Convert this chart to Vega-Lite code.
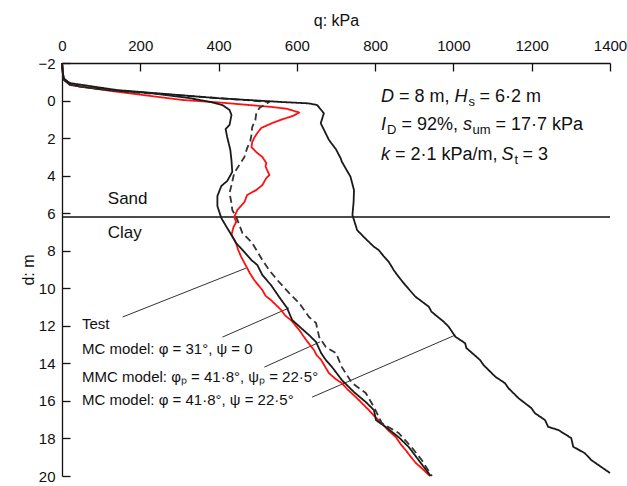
{
  "$schema": "https://vega.github.io/schema/vega-lite/v6.json",
  "width": 548,
  "height": 413,
  "autosize": {"type": "none"},
  "padding": {"left": 62, "top": 63, "right": 17, "bottom": 10},
  "config": {
    "view": {"stroke": null},
    "font": "Liberation Sans",
    "text": {"font": "Liberation Sans", "color": "#111"}
  },
  "datasets": {
    "curves": [
      {"s": "Test", "q": 0, "d": -2}, {"s": "Test", "q": 2, "d": -1.5}, {"s": "Test", "q": 5, "d": -1.1},
      {"s": "Test", "q": 20, "d": -0.83}, {"s": "Test", "q": 140, "d": -0.47}, {"s": "Test", "q": 308, "d": -0.03},
      {"s": "Test", "q": 400, "d": 0.1}, {"s": "Test", "q": 479, "d": 0.24}, {"s": "Test", "q": 540, "d": 0.35},
      {"s": "Test", "q": 575, "d": 0.44}, {"s": "Test", "q": 606, "d": 0.64}, {"s": "Test", "q": 590, "d": 0.82},
      {"s": "Test", "q": 560, "d": 1.02}, {"s": "Test", "q": 537, "d": 1.2}, {"s": "Test", "q": 509, "d": 1.46},
      {"s": "Test", "q": 499, "d": 1.73}, {"s": "Test", "q": 492, "d": 1.95}, {"s": "Test", "q": 486, "d": 2.21},
      {"s": "Test", "q": 484, "d": 2.48}, {"s": "Test", "q": 496, "d": 2.74}, {"s": "Test", "q": 512, "d": 3.01},
      {"s": "Test", "q": 522, "d": 3.33}, {"s": "Test", "q": 520, "d": 3.5}, {"s": "Test", "q": 524, "d": 3.7},
      {"s": "Test", "q": 530, "d": 3.97}, {"s": "Test", "q": 522, "d": 4.13}, {"s": "Test", "q": 512, "d": 4.5},
      {"s": "Test", "q": 496, "d": 4.77}, {"s": "Test", "q": 473, "d": 5.03}, {"s": "Test", "q": 466, "d": 5.41},
      {"s": "Test", "q": 448, "d": 5.83}, {"s": "Test", "q": 440, "d": 6.2}, {"s": "Test", "q": 445, "d": 6.47},
      {"s": "Test", "q": 438, "d": 6.75}, {"s": "Test", "q": 435, "d": 7.0}, {"s": "Test", "q": 433, "d": 7.16},
      {"s": "Test", "q": 445, "d": 7.6}, {"s": "Test", "q": 450, "d": 7.95}, {"s": "Test", "q": 458, "d": 8.34},
      {"s": "Test", "q": 473, "d": 8.92}, {"s": "Test", "q": 480, "d": 9.2}, {"s": "Test", "q": 491, "d": 9.56},
      {"s": "Test", "q": 512, "d": 10.1}, {"s": "Test", "q": 520, "d": 10.4}, {"s": "Test", "q": 534, "d": 10.63},
      {"s": "Test", "q": 560, "d": 11.16}, {"s": "Test", "q": 570, "d": 11.45}, {"s": "Test", "q": 585, "d": 11.7},
      {"s": "Test", "q": 606, "d": 12.22}, {"s": "Test", "q": 615, "d": 12.5}, {"s": "Test", "q": 624, "d": 12.76},
      {"s": "Test", "q": 644, "d": 13.3}, {"s": "Test", "q": 650, "d": 13.55}, {"s": "Test", "q": 662, "d": 13.82},
      {"s": "Test", "q": 682, "d": 14.52}, {"s": "Test", "q": 700, "d": 14.85}, {"s": "Test", "q": 715, "d": 15.05},
      {"s": "Test", "q": 730, "d": 15.4}, {"s": "Test", "q": 751, "d": 15.8}, {"s": "Test", "q": 770, "d": 16.2},
      {"s": "Test", "q": 784, "d": 16.49}, {"s": "Test", "q": 800, "d": 16.85}, {"s": "Test", "q": 817, "d": 17.18},
      {"s": "Test", "q": 835, "d": 17.6}, {"s": "Test", "q": 853, "d": 17.93}, {"s": "Test", "q": 865, "d": 18.3},
      {"s": "Test", "q": 878, "d": 18.62}, {"s": "Test", "q": 890, "d": 18.95}, {"s": "Test", "q": 904, "d": 19.31},
      {"s": "Test", "q": 920, "d": 19.6}, {"s": "Test", "q": 932, "d": 19.84}, {"s": "Test", "q": 940, "d": 20.0},

      {"s": "MC31", "q": 0, "d": -2}, {"s": "MC31", "q": 2, "d": -1.5}, {"s": "MC31", "q": 5, "d": -1.1},
      {"s": "MC31", "q": 20, "d": -0.85}, {"s": "MC31", "q": 53, "d": -0.72}, {"s": "MC31", "q": 120, "d": -0.55},
      {"s": "MC31", "q": 224, "d": -0.4}, {"s": "MC31", "q": 326, "d": -0.13}, {"s": "MC31", "q": 380, "d": 0.08},
      {"s": "MC31", "q": 410, "d": 0.24}, {"s": "MC31", "q": 428, "d": 0.5}, {"s": "MC31", "q": 433, "d": 0.77},
      {"s": "MC31", "q": 428, "d": 1.3}, {"s": "MC31", "q": 418, "d": 1.52}, {"s": "MC31", "q": 422, "d": 1.94},
      {"s": "MC31", "q": 430, "d": 2.63}, {"s": "MC31", "q": 433, "d": 3.2}, {"s": "MC31", "q": 435, "d": 3.8},
      {"s": "MC31", "q": 422, "d": 4.29}, {"s": "MC31", "q": 407, "d": 4.55}, {"s": "MC31", "q": 397, "d": 5.09},
      {"s": "MC31", "q": 397, "d": 5.62}, {"s": "MC31", "q": 407, "d": 6.26}, {"s": "MC31", "q": 422, "d": 6.79},
      {"s": "MC31", "q": 433, "d": 7.16}, {"s": "MC31", "q": 445, "d": 7.6}, {"s": "MC31", "q": 466, "d": 8.07},
      {"s": "MC31", "q": 484, "d": 8.5}, {"s": "MC31", "q": 499, "d": 8.76}, {"s": "MC31", "q": 512, "d": 9.3},
      {"s": "MC31", "q": 534, "d": 9.83}, {"s": "MC31", "q": 555, "d": 10.47}, {"s": "MC31", "q": 575, "d": 11.05},
      {"s": "MC31", "q": 588, "d": 11.69}, {"s": "MC31", "q": 611, "d": 12.12}, {"s": "MC31", "q": 631, "d": 12.49},
      {"s": "MC31", "q": 649, "d": 12.86}, {"s": "MC31", "q": 662, "d": 13.45}, {"s": "MC31", "q": 674, "d": 13.82},
      {"s": "MC31", "q": 690, "d": 14.2}, {"s": "MC31", "q": 715, "d": 14.89}, {"s": "MC31", "q": 746, "d": 15.53},
      {"s": "MC31", "q": 776, "d": 16.06}, {"s": "MC31", "q": 797, "d": 16.49}, {"s": "MC31", "q": 802, "d": 17.02},
      {"s": "MC31", "q": 827, "d": 17.39}, {"s": "MC31", "q": 860, "d": 17.93}, {"s": "MC31", "q": 886, "d": 18.46},
      {"s": "MC31", "q": 911, "d": 19.15}, {"s": "MC31", "q": 942, "d": 20.0},

      {"s": "MMC", "q": 0, "d": -2}, {"s": "MMC", "q": 2, "d": -1.5}, {"s": "MMC", "q": 5, "d": -1.1},
      {"s": "MMC", "q": 33, "d": -0.77}, {"s": "MMC", "q": 173, "d": -0.45}, {"s": "MMC", "q": 326, "d": -0.24},
      {"s": "MMC", "q": 453, "d": -0.05}, {"s": "MMC", "q": 529, "d": 0.08}, {"s": "MMC", "q": 517, "d": 0.24},
      {"s": "MMC", "q": 504, "d": 0.4}, {"s": "MMC", "q": 496, "d": 0.72}, {"s": "MMC", "q": 494, "d": 1.04},
      {"s": "MMC", "q": 486, "d": 1.41}, {"s": "MMC", "q": 484, "d": 1.84}, {"s": "MMC", "q": 481, "d": 2.16},
      {"s": "MMC", "q": 473, "d": 2.53}, {"s": "MMC", "q": 466, "d": 3.01}, {"s": "MMC", "q": 453, "d": 3.43},
      {"s": "MMC", "q": 440, "d": 3.86}, {"s": "MMC", "q": 433, "d": 4.5}, {"s": "MMC", "q": 428, "d": 4.93},
      {"s": "MMC", "q": 433, "d": 5.46}, {"s": "MMC", "q": 435, "d": 5.83}, {"s": "MMC", "q": 445, "d": 6.2},
      {"s": "MMC", "q": 453, "d": 6.63}, {"s": "MMC", "q": 461, "d": 7.06}, {"s": "MMC", "q": 486, "d": 7.59},
      {"s": "MMC", "q": 512, "d": 8.5}, {"s": "MMC", "q": 529, "d": 9.03}, {"s": "MMC", "q": 550, "d": 9.56},
      {"s": "MMC", "q": 580, "d": 10.25}, {"s": "MMC", "q": 606, "d": 10.79}, {"s": "MMC", "q": 631, "d": 11.53},
      {"s": "MMC", "q": 649, "d": 11.85}, {"s": "MMC", "q": 657, "d": 12.6}, {"s": "MMC", "q": 674, "d": 13.13},
      {"s": "MMC", "q": 700, "d": 13.45}, {"s": "MMC", "q": 715, "d": 14.2}, {"s": "MMC", "q": 741, "d": 15.05},
      {"s": "MMC", "q": 776, "d": 15.58}, {"s": "MMC", "q": 797, "d": 16.33}, {"s": "MMC", "q": 817, "d": 17.18},
      {"s": "MMC", "q": 860, "d": 17.71}, {"s": "MMC", "q": 893, "d": 18.46}, {"s": "MMC", "q": 919, "d": 19.15},
      {"s": "MMC", "q": 945, "d": 20.0},

      {"s": "MC418", "q": 0, "d": -2}, {"s": "MC418", "q": 3, "d": -1.2}, {"s": "MC418", "q": 20, "d": -0.93},
      {"s": "MC418", "q": 140, "d": -0.56}, {"s": "MC418", "q": 395, "d": -0.13}, {"s": "MC418", "q": 563, "d": 0.08},
      {"s": "MC418", "q": 630, "d": 0.15}, {"s": "MC418", "q": 652, "d": 0.24}, {"s": "MC418", "q": 669, "d": 0.68},
      {"s": "MC418", "q": 661, "d": 1.21}, {"s": "MC418", "q": 682, "d": 2.1}, {"s": "MC418", "q": 700, "d": 2.6},
      {"s": "MC418", "q": 712, "d": 3.08}, {"s": "MC418", "q": 715, "d": 3.26}, {"s": "MC418", "q": 737, "d": 4.06},
      {"s": "MC418", "q": 746, "d": 4.77}, {"s": "MC418", "q": 745, "d": 5.4}, {"s": "MC418", "q": 742, "d": 6.1},
      {"s": "MC418", "q": 754, "d": 6.9}, {"s": "MC418", "q": 775, "d": 7.35}, {"s": "MC418", "q": 797, "d": 7.79},
      {"s": "MC418", "q": 809, "d": 7.96}, {"s": "MC418", "q": 822, "d": 8.3}, {"s": "MC418", "q": 835, "d": 8.6},
      {"s": "MC418", "q": 848, "d": 9.05}, {"s": "MC418", "q": 860, "d": 9.39}, {"s": "MC418", "q": 877, "d": 9.83},
      {"s": "MC418", "q": 903, "d": 10.45}, {"s": "MC418", "q": 937, "d": 10.98}, {"s": "MC418", "q": 944, "d": 11.25},
      {"s": "MC418", "q": 975, "d": 11.78}, {"s": "MC418", "q": 988, "d": 12.05}, {"s": "MC418", "q": 1005, "d": 12.58},
      {"s": "MC418", "q": 1030, "d": 12.93}, {"s": "MC418", "q": 1033, "d": 13.18}, {"s": "MC418", "q": 1068, "d": 13.82},
      {"s": "MC418", "q": 1077, "d": 14.09}, {"s": "MC418", "q": 1107, "d": 14.71}, {"s": "MC418", "q": 1132, "d": 15.06},
      {"s": "MC418", "q": 1140, "d": 15.31}, {"s": "MC418", "q": 1166, "d": 15.85}, {"s": "MC418", "q": 1199, "d": 16.38},
      {"s": "MC418", "q": 1208, "d": 16.65}, {"s": "MC418", "q": 1234, "d": 17.02}, {"s": "MC418", "q": 1242, "d": 17.38},
      {"s": "MC418", "q": 1268, "d": 17.55}, {"s": "MC418", "q": 1301, "d": 17.98}, {"s": "MC418", "q": 1306, "d": 18.44},
      {"s": "MC418", "q": 1336, "d": 18.79}, {"s": "MC418", "q": 1352, "d": 19.15}, {"s": "MC418", "q": 1377, "d": 19.51},
      {"s": "MC418", "q": 1400, "d": 19.84}
    ],
    "leaders": [
      {"id": "Test", "q": 155, "d": 11.53}, {"id": "Test", "q": 471, "d": 8.92},
      {"id": "MC31", "q": 410, "d": 12.6}, {"id": "MC31", "q": 580, "d": 11.05},
      {"id": "MMC", "q": 517, "d": 14.2}, {"id": "MMC", "q": 659, "d": 12.86},
      {"id": "MC418", "q": 639, "d": 15.8}, {"id": "MC418", "q": 1005, "d": 12.49}
    ],
    "layers": [
      {"q": 0, "q2": 1400, "d": 6.2}
    ],
    "soil": [
      {"t": "Sand", "q": 117, "d": 5.49},
      {"t": "Clay", "q": 117, "d": 7.31}
    ],
    "legendText": [
      {"t": "Test", "q": 51, "d": 12.19},
      {"t": "MC model: φ = 31°, ψ = 0", "q": 51, "d": 13.52},
      {"t": "MMC model: φₚ = 41·8°, ψₚ = 22·5°", "q": 51, "d": 15.01},
      {"t": "MC model: φ = 41·8°, ψ = 22·5°", "q": 51, "d": 16.24}
    ],
    "notes": [
      {"k": "var", "t": "D", "q": 815, "d": 0.064},
      {"k": "var", "t": "I", "q": 815, "d": 1.573},
      {"k": "var", "t": "k", "q": 815, "d": 3.173},
      {"k": "r1b", "t": "= 8 m,", "q": 815, "d": 0.064},
      {"k": "r1c", "t": "H", "q": 815, "d": 0.064},
      {"k": "r1d", "t": "s", "q": 815, "d": 0.064},
      {"k": "r1e", "t": "= 6·2 m", "q": 815, "d": 0.064},
      {"k": "r2b", "t": "D", "q": 815, "d": 1.573},
      {"k": "r2c", "t": "= 92%,", "q": 815, "d": 1.573},
      {"k": "r2d", "t": "s", "q": 815, "d": 1.573},
      {"k": "r2e", "t": "um", "q": 815, "d": 1.573},
      {"k": "r2f", "t": "= 17·7 kPa", "q": 815, "d": 1.573},
      {"k": "r3b", "t": "= 2·1 kPa/m,", "q": 815, "d": 3.173},
      {"k": "r3c", "t": "S", "q": 815, "d": 3.173},
      {"k": "r3d", "t": "t", "q": 815, "d": 3.173},
      {"k": "r3e", "t": "= 3", "q": 815, "d": 3.173}
    ]
  },
  "encoding": {
    "x": {
      "field": "q", "type": "quantitative",
      "scale": {"domain": [0, 1400], "nice": false, "zero": false},
      "axis": {
        "orient": "top", "title": "q: kPa", "values": [0, 200, 400, 600, 800, 1000, 1200, 1400], "format": "d",
        "grid": false, "tickSize": -8, "labelPadding": 18, "labelFlush": false,
        "domainColor": "#111", "domainWidth": 1.3, "tickColor": "#111", "tickWidth": 1.3,
        "labelFontSize": 15, "labelColor": "#111", "labelFont": "Liberation Sans",
        "titleFontSize": 16, "titleFontWeight": "normal", "titleColor": "#111", "titleFont": "Liberation Sans", "titlePadding": 10
      }
    },
    "y": {
      "field": "d", "type": "quantitative",
      "scale": {"domain": [-2, 20], "reverse": true, "nice": false, "zero": false},
      "axis": {
        "orient": "left", "title": "d: m", "values": [-2, 0, 2, 4, 6, 8, 10, 12, 14, 16, 18, 20],
        "grid": false, "tickSize": -8, "labelPadding": 15, "labelFlush": false,
        "domainColor": "#111", "domainWidth": 1.3, "tickColor": "#111", "tickWidth": 1.3,
        "labelFontSize": 15, "labelColor": "#111", "labelFont": "Liberation Sans",
        "titleFontSize": 16, "titleFontWeight": "normal", "titleColor": "#111", "titleFont": "Liberation Sans", "titlePadding": 1
      }
    }
  },
  "layer": [
    {
      "data": {"name": "layers"},
      "mark": {"type": "rule", "color": "#111", "strokeWidth": 1.6},
      "encoding": {"x2": {"field": "q2"}}
    },
    {
      "data": {"name": "leaders"},
      "mark": {"type": "line", "color": "#333", "strokeWidth": 1},
      "encoding": {"detail": {"field": "id"}}
    },
    {
      "data": {"name": "curves"},
      "mark": {"type": "line", "strokeWidth": 1.8, "strokeJoin": "round"},
      "encoding": {
        "order": {"field": "d", "type": "quantitative"},
        "color": {
          "field": "s", "type": "nominal", "legend": null,
          "scale": {"domain": ["MC418", "MMC", "MC31", "Test"], "range": ["#1a1a1a", "#333333", "#1a1a1a", "#ff1010"]}
        },
        "strokeDash": {
          "field": "s", "type": "nominal", "legend": null,
          "scale": {"domain": ["MC418", "MMC", "MC31", "Test"], "range": [[1, 0], [7, 4], [1, 0], [1, 0]]}
        }
      }
    },
    {
      "data": {"name": "soil"},
      "mark": {"type": "text", "align": "left", "baseline": "alphabetic", "fontSize": 17},
      "encoding": {"text": {"field": "t"}}
    },
    {
      "data": {"name": "legendText"},
      "mark": {"type": "text", "align": "left", "baseline": "alphabetic", "fontSize": 15},
      "encoding": {"text": {"field": "t"}}
    },
    {
      "data": {"name": "notes"},
      "encoding": {"text": {"field": "t"}},
      "layer": [
        {"transform": [{"filter": "datum.k == 'var'"}], "mark": {"type": "text", "align": "left", "baseline": "alphabetic", "fontSize": 18, "fontStyle": "italic"}},
        {"transform": [{"filter": "datum.k == 'r1b'"}], "mark": {"type": "text", "align": "left", "baseline": "alphabetic", "fontSize": 18, "dx": 18}},
        {"transform": [{"filter": "datum.k == 'r1c'"}], "mark": {"type": "text", "align": "left", "baseline": "alphabetic", "fontSize": 18, "fontStyle": "italic", "dx": 73.5}},
        {"transform": [{"filter": "datum.k == 'r1d'"}], "mark": {"type": "text", "align": "left", "baseline": "alphabetic", "fontSize": 13, "dx": 87.5, "dy": 4}},
        {"transform": [{"filter": "datum.k == 'r1e'"}], "mark": {"type": "text", "align": "left", "baseline": "alphabetic", "fontSize": 18, "dx": 98.5}},
        {"transform": [{"filter": "datum.k == 'r2b'"}], "mark": {"type": "text", "align": "left", "baseline": "alphabetic", "fontSize": 13, "dx": 6, "dy": 4}},
        {"transform": [{"filter": "datum.k == 'r2c'"}], "mark": {"type": "text", "align": "left", "baseline": "alphabetic", "fontSize": 18, "dx": 20.5}},
        {"transform": [{"filter": "datum.k == 'r2d'"}], "mark": {"type": "text", "align": "left", "baseline": "alphabetic", "fontSize": 18, "fontStyle": "italic", "dx": 82}},
        {"transform": [{"filter": "datum.k == 'r2e'"}], "mark": {"type": "text", "align": "left", "baseline": "alphabetic", "fontSize": 13, "dx": 91.5, "dy": 4}},
        {"transform": [{"filter": "datum.k == 'r2f'"}], "mark": {"type": "text", "align": "left", "baseline": "alphabetic", "fontSize": 18, "dx": 114.5}},
        {"transform": [{"filter": "datum.k == 'r3b'"}], "mark": {"type": "text", "align": "left", "baseline": "alphabetic", "fontSize": 18, "dx": 14}},
        {"transform": [{"filter": "datum.k == 'r3c'"}], "mark": {"type": "text", "align": "left", "baseline": "alphabetic", "fontSize": 18, "fontStyle": "italic", "dx": 120.5}},
        {"transform": [{"filter": "datum.k == 'r3d'"}], "mark": {"type": "text", "align": "left", "baseline": "alphabetic", "fontSize": 13, "dx": 133.5, "dy": 4}},
        {"transform": [{"filter": "datum.k == 'r3e'"}], "mark": {"type": "text", "align": "left", "baseline": "alphabetic", "fontSize": 18, "dx": 141.5}}
      ]
    }
  ]
}
